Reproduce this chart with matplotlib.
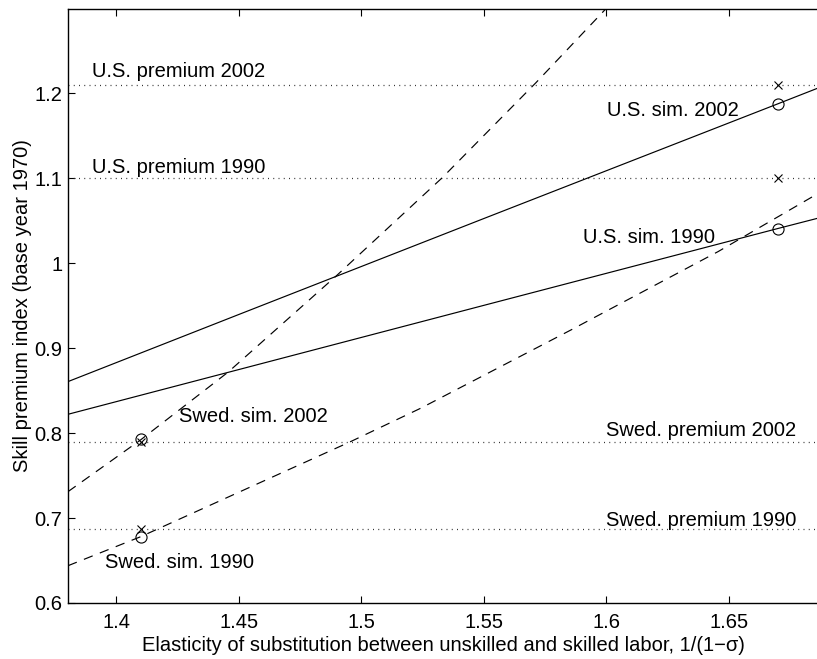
import matplotlib
matplotlib.use("Agg")
import matplotlib.pyplot as plt

# ---- data ----
# simulated skill premium curves (x = 1/(1-sigma))
us_sim_2002_x = [1.3804, 1.45, 1.55, 1.67, 1.6867]
us_sim_2002_y = [0.8607, 0.9396, 1.0526, 1.1877, 1.2066]
us_sim_1990_x = [1.3804, 1.45, 1.55, 1.67, 1.6867]
us_sim_1990_y = [0.8222, 0.8748, 0.9504, 1.0409, 1.0533]

swe_sim_2002_x = [1.3804, 1.41, 1.4458, 1.4903, 1.5332, 1.5714, 1.60]
swe_sim_2002_y = [0.7311, 0.792, 0.872, 0.9863, 1.101, 1.2128, 1.30]
swe_sim_1990_x = [1.3804, 1.41, 1.4957, 1.5243, 1.5857, 1.6457, 1.6867]
swe_sim_1990_y = [0.6439, 0.678, 0.790, 0.8293, 0.9216, 1.0138, 1.0826]

# observed premiums (horizontal dotted reference lines)
premium_names = ["U.S. premium 2002", "U.S. premium 1990",
                 "Swed. premium 2002", "Swed. premium 1990"]
premium_values = [1.21, 1.10, 0.79, 0.687]

# calibration points: simulated (circles) and actual (crosses)
us_sigma = 1.67
us_sim_points = [1.1877, 1.0409]
us_actual_points = [1.21, 1.10]
swe_sigma = 1.41
swe_sim_points = [0.793, 0.678]
swe_actual_points = [0.790, 0.687]

x_ticks = [1.4, 1.45, 1.5, 1.55, 1.6, 1.65]
x_tick_labels = ["1.4", "1.45", "1.5", "1.55", "1.6", "1.65"]
y_ticks = [0.6, 0.7, 0.8, 0.9, 1.0, 1.1, 1.2]
y_tick_labels = ["0.6", "0.7", "0.8", "0.9", "1", "1.1", "1.2"]

# ---- figure ----
plt.rcParams['font.family'] = ['Liberation Sans', 'DejaVu Sans']
W, H = 817, 659
fig = plt.figure(figsize=(W / 100, H / 100), dpi=100)
ax = fig.add_axes([68 / W, (H - 603) / H, 1.0 - 68 / W + 0.002, (603 - 8.5) / H])

FS = 14.5
lw = 0.85
dash = (0, (8, 6.5))

for v in premium_values:
    ax.axhline(v, color='#333333', lw=0.9, linestyle=(0, (0.8, 3.4)))

ax.plot(us_sim_2002_x, us_sim_2002_y, color='black', lw=lw)
ax.plot(us_sim_1990_x, us_sim_1990_y, color='black', lw=lw)
ax.plot(swe_sim_2002_x, swe_sim_2002_y, color='black', lw=lw, linestyle=dash)
ax.plot(swe_sim_1990_x, swe_sim_1990_y, color='black', lw=lw, linestyle=dash)

ax.plot([us_sigma] * 2, us_sim_points, linestyle='none', marker='o', ms=8,
        mfc='none', mec='black', mew=0.8)
ax.plot([us_sigma] * 2, us_actual_points, linestyle='none', marker='x', ms=5.5,
        color='black', mew=0.8)
ax.plot([swe_sigma] * 2, swe_sim_points, linestyle='none', marker='o', ms=8,
        mfc='none', mec='black', mew=0.8)
ax.plot([swe_sigma] * 2, swe_actual_points, linestyle='none', marker='x', ms=5.5,
        color='black', mew=0.8)

# text annotations
ax.text(1.3901, 1.2199, premium_names[0], fontsize=FS, va='baseline')
ax.text(1.3901, 1.1061, premium_names[1], fontsize=FS, va='baseline')
ax.text(1.6000, 0.7970, premium_names[2], fontsize=FS, va='baseline')
ax.text(1.6000, 0.6910, premium_names[3], fontsize=FS, va='baseline')
ax.text(1.6003, 1.1740, "U.S. sim. 2002", fontsize=FS, va='baseline')
ax.text(1.5904, 1.0237, "U.S. sim. 1990", fontsize=FS, va='baseline')
ax.text(1.4255, 0.8128, "Swed. sim. 2002", fontsize=FS, va='baseline')
ax.text(1.3955, 0.6416, "Swed. sim. 1990", fontsize=FS, va='baseline')

ax.set_xlim(1.3804, 1.6867)
ax.set_ylim(0.6, 1.3)
ax.set_xticks(x_ticks)
ax.set_xticklabels(x_tick_labels, fontsize=FS)
ax.set_yticks(y_ticks)
ax.set_yticklabels(y_tick_labels, fontsize=FS)
ax.tick_params(direction='in', length=5, width=0.8, top=True, right=False)
ax.tick_params(axis='x', pad=7)
ax.tick_params(axis='y', pad=4)

for s in ['left', 'bottom', 'top']:
    ax.spines[s].set_linewidth(1.0)
ax.spines['right'].set_visible(False)

ax.set_xlabel("Elasticity of substitution between unskilled and skilled labor, 1/(1\u2212\u03c3)",
              fontsize=FS, labelpad=3)
ax.set_ylabel("Skill premium index (base year 1970)", fontsize=FS, labelpad=2)

fig.savefig("out.png", dpi=100)
